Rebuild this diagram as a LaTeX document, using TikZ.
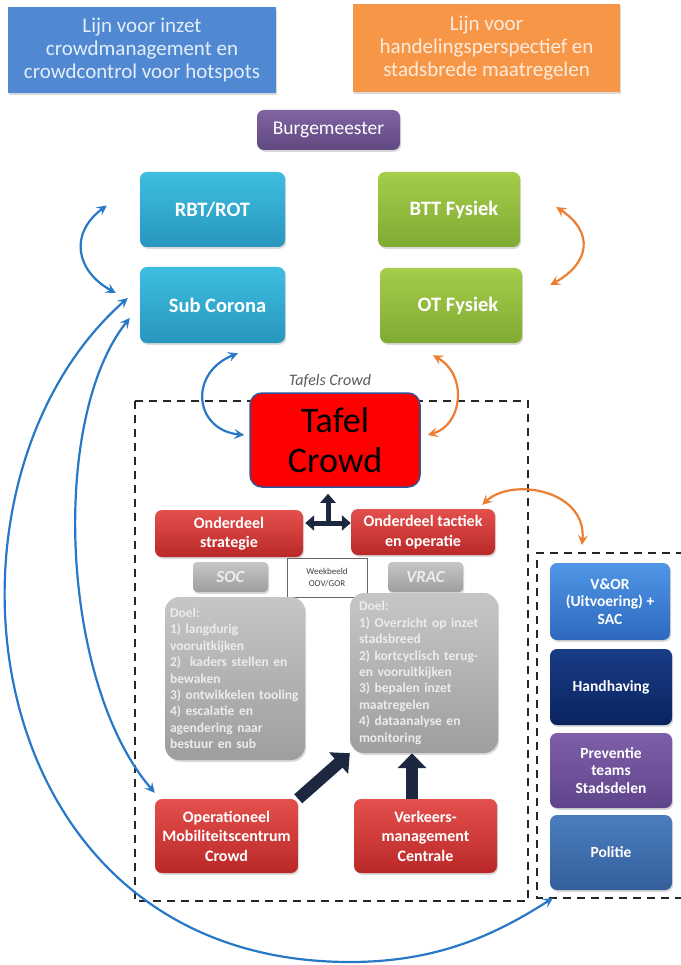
\documentclass[tikz,border=0pt]{standalone}
\usepackage{fontspec}
\setmainfont{Carlito}
\usetikzlibrary{arrows.meta,shadows,calc}
\definecolor{hblue}{RGB}{80,136,210}
\definecolor{horange}{RGB}{247,150,70}
\definecolor{htextb}{RGB}{228,238,250}
\definecolor{htexto}{RGB}{253,236,222}
\definecolor{purpT}{RGB}{128,100,162}
\definecolor{purpB}{RGB}{96,72,128}
\definecolor{cyanT}{RGB}{62,190,225}
\definecolor{cyanB}{RGB}{40,150,190}
\definecolor{greenT}{RGB}{165,205,75}
\definecolor{greenB}{RGB}{128,170,50}
\definecolor{redT}{RGB}{228,80,76}
\definecolor{redB}{RGB}{185,40,40}
\definecolor{greyT}{RGB}{198,198,198}
\definecolor{greyB}{RGB}{158,158,158}
\definecolor{vorT}{RGB}{80,150,230}
\definecolor{vorB}{RGB}{45,105,190}
\definecolor{handT}{RGB}{25,60,135}
\definecolor{handB}{RGB}{10,35,95}
\definecolor{prevT}{RGB}{125,95,168}
\definecolor{prevB}{RGB}{95,68,140}
\definecolor{polT}{RGB}{75,125,190}
\definecolor{polB}{RGB}{52,95,155}
\definecolor{arrblue}{RGB}{40,120,200}
\definecolor{arrorange}{RGB}{237,125,49}
\definecolor{navy}{RGB}{28,40,64}
\definecolor{tborder}{RGB}{47,85,151}
\definecolor{doeltext}{RGB}{236,236,236}
\begin{document}
\begin{tikzpicture}[x=1pt,y=-1pt,
  shad/.style={drop shadow={opacity=0.3,shadow xshift=1.2pt,shadow yshift=-1.8pt}},
  hdr/.style={shad,align=center,inner sep=0pt,font=\fontsize{21}{23}\selectfont},
  rbox/.style={shad,rounded corners=7pt,align=center,inner sep=2pt,text=white},
  bigtxt/.style={font=\fontsize{20.5}{24}\selectfont\bfseries},
  redbox/.style={rbox,top color=redT,bottom color=redB,font=\fontsize{16}{19.5}\selectfont\bfseries},
  sidebox/.style={rbox,minimum width=122pt,font=\fontsize{15.5}{17.5}\selectfont\bfseries},
  greybox/.style={rbox,top color=greyT,bottom color=greyB,text=doeltext},
  doel/.style={greybox,rounded corners=14pt,text width=130pt,align=left,inner sep=5pt,
    font=\fontsize{13.5}{16.4}\selectfont\bfseries},
  dashbox/.style={draw=black!85,line width=2.3pt,dash pattern=on 8pt off 6pt},
  barrow/.style={draw=arrblue,line width=2.2pt,
    {Stealth[length=10pt,width=10pt,inset=4pt]}-{Stealth[length=10pt,width=10pt,inset=4pt]}},
  oarrow/.style={barrow,draw=arrorange},
  tarrow/.style={draw=navy,line width=5pt,-{Triangle[length=9pt,width=15pt]}},
  bigarrow/.style={draw=navy,line width=12pt,-{Triangle[length=15pt,width=28pt]}}]
\path[use as bounding box] (0,0) rectangle (680,965);

% headers
\node[hdr,fill=hblue,text=htextb,minimum width=268pt,minimum height=86pt] (hl) at (142,50)
  {Lijn voor inzet\\crowdmanagement en\\crowdcontrol voor hotspots};
\node[hdr,fill=horange,text=htexto,minimum width=267pt,minimum height=88pt] (hr) at (486.5,48)
  {Lijn voor\\handelingsperspectief en\\stadsbrede maatregelen};

\node[rbox,top color=purpT,bottom color=purpB,minimum width=143pt,minimum height=40pt,
  font=\fontsize{19.5}{22}\selectfont] (burg) at (328.5,130) {Burgemeester};

\node[rbox,bigtxt,top color=cyanT,bottom color=cyanB,minimum width=145pt,minimum height=75pt] (rbt) at (212.5,209.5) {RBT/ROT};
\node[rbox,bigtxt,top color=cyanT,bottom color=cyanB,minimum width=145pt,minimum height=76pt] (sub) at (212.5,305) {\hspace*{10pt}Sub Corona};
\node[rbox,bigtxt,top color=greenT,bottom color=greenB,minimum width=142pt,minimum height=75pt] (btt) at (449,209.5) {\hspace*{10pt}BTT Fysiek};
\node[rbox,bigtxt,top color=greenT,bottom color=greenB,minimum width=142pt,minimum height=75pt] (ot) at (451,305.5) {\hspace*{14pt}OT Fysiek};

% dashed frames
\draw[dashbox] (135,401) rectangle (528,901);
\coordinate (rboxNW) at (537,553);
\coordinate (rboxSW) at (537,898);
\draw[dashbox] (684,553) -- (rboxNW) -- (rboxSW) -- (684,898);

\node[font=\itshape\fontsize{16}{18}\selectfont,text=black!65] (tlabel) at (330,381) {Tafels Crowd};

\node[rounded corners=12pt,fill=red,draw=tborder,line width=1.5pt,minimum width=170pt,minimum height=94pt,
  align=center,inner sep=0pt,font=\fontsize{36}{40}\selectfont,text=black] (tafel) at (335,440) {Tafel\\Crowd};

\node[redbox,minimum width=148pt,minimum height=47pt] (ods) at (229,533.5) {Onderdeel\\strategie};
\node[redbox,minimum width=144pt,minimum height=46pt] (odt) at (423,532) {Onderdeel tactiek\\en operatie};

\node[greybox,rounded corners=4pt,minimum width=75pt,minimum height=30pt,font=\fontsize{17}{19}\selectfont\bfseries\itshape] (soc) at (230.5,577) {SOC};
\node[greybox,rounded corners=4pt,minimum width=75pt,minimum height=30pt,font=\fontsize{17}{19}\selectfont\bfseries\itshape] (vrac) at (425.5,577) {VRAC};
\node[draw=black!60,fill=white,line width=0.6pt,minimum width=80pt,minimum height=39pt,align=center,
  inner sep=1pt,font=\fontsize{9}{12}\selectfont,text=black!75] (week) at (327,577.5) {Weekbeeld\\OOV/GOR};

\node[doel,minimum width=140pt,minimum height=163pt] (doelL) at (235,678.5)
  {Doel:\\1) langdurig\\vooruitkijken\\2)\ \ kaders stellen en\\bewaken\\3) ontwikkelen tooling\\4) escalatie en\\agendering naar\\bestuur en sub};
\node[doel,minimum width=148pt,minimum height=160pt] (doelR) at (424,673)
  {Doel:\\1) Overzicht op inzet\\stadsbreed\\2) kortcyclisch terug-\\en vooruitkijken\\3) bepalen inzet\\maatregelen\\4) dataanalyse en\\monitoring};

\node[redbox,minimum width=143pt,minimum height=74pt] (omc) at (226.5,836) {Operationeel\\Mobiliteitscentrum\\Crowd};
\node[redbox,minimum width=143pt,minimum height=74pt] (vmc) at (425.5,836) {Verkeers-\\management\\Centrale};

% right column
\node[sidebox,top color=vorT,bottom color=vorB,minimum width=120pt,minimum height=77pt] (vor) at (610,601.5) {V\&OR\\(Uitvoering) +\\SAC};
\node[sidebox,top color=handT,bottom color=handB,minimum height=76pt] (hand) at (611,687) {Handhaving};
\node[sidebox,top color=prevT,bottom color=prevB,minimum height=75pt] (prev) at (611,770.5) {Preventie\\teams\\Stadsdelen};
\node[sidebox,top color=polT,bottom color=polB,minimum height=75pt] (pol) at (611,852.5) {Politie};

% T arrow
\coordinate (tj) at (328,523);
\draw[tarrow,shorten >=6pt] (tj) -- (tafel.south -| tj);
\draw[tarrow,shorten >=2pt] (tj) -- (ods.east |- tj);
\draw[tarrow] (tj) -- (odt.west |- tj);

% thick arrows
\draw[bigarrow] (omc.north east) -- (doelR.south west);
\draw[bigarrow] ($(vmc.north)+(-13.5,0)$) -- ($(doelR.south)+(-12,0)$);

% curved connectors
\draw[barrow] ($(rbt.west)+(-33,-4)$) .. controls +(-38,28) and +(-40,-22) .. ($(sub.west)+(-24,-12)$);
\draw[oarrow] ($(btt.east)+(36,-2.5)$) .. controls +(38,25) and +(40,-22) .. ($(ot.east)+(28,-20.5)$);
\draw[barrow] ($(sub.south)+(25.5,10)$) .. controls +(-50,20) and +(-50,-5) .. ($(tafel.west)+(-5,-5)$);
\draw[oarrow] ($(ot.south)+(-18,12)$) .. controls +(35,20) and +(35,-10) .. ($(tafel.east)+(7,-5)$);
\draw[oarrow] ($(odt.north east)+(-13,-4)$) .. controls +(30,-28) and +(5,-55) .. ($(rboxNW)+(45,-8)$);
\draw[barrow] ($(sub.west)+(-10,13)$) .. controls +(-80,100) and +(-95,-110) .. ($(omc.north west)+(0,-6)$);
\coordinate (cbot) at (350,962);
\draw[barrow] ($(sub.west)+(-12,-7)$) .. controls +(-210,185) and +(-380,0) .. (cbot)
  .. controls +(90,0) and +(-55,35) .. ($(rboxSW)+(16,0)$);
\end{tikzpicture}
\end{document}
